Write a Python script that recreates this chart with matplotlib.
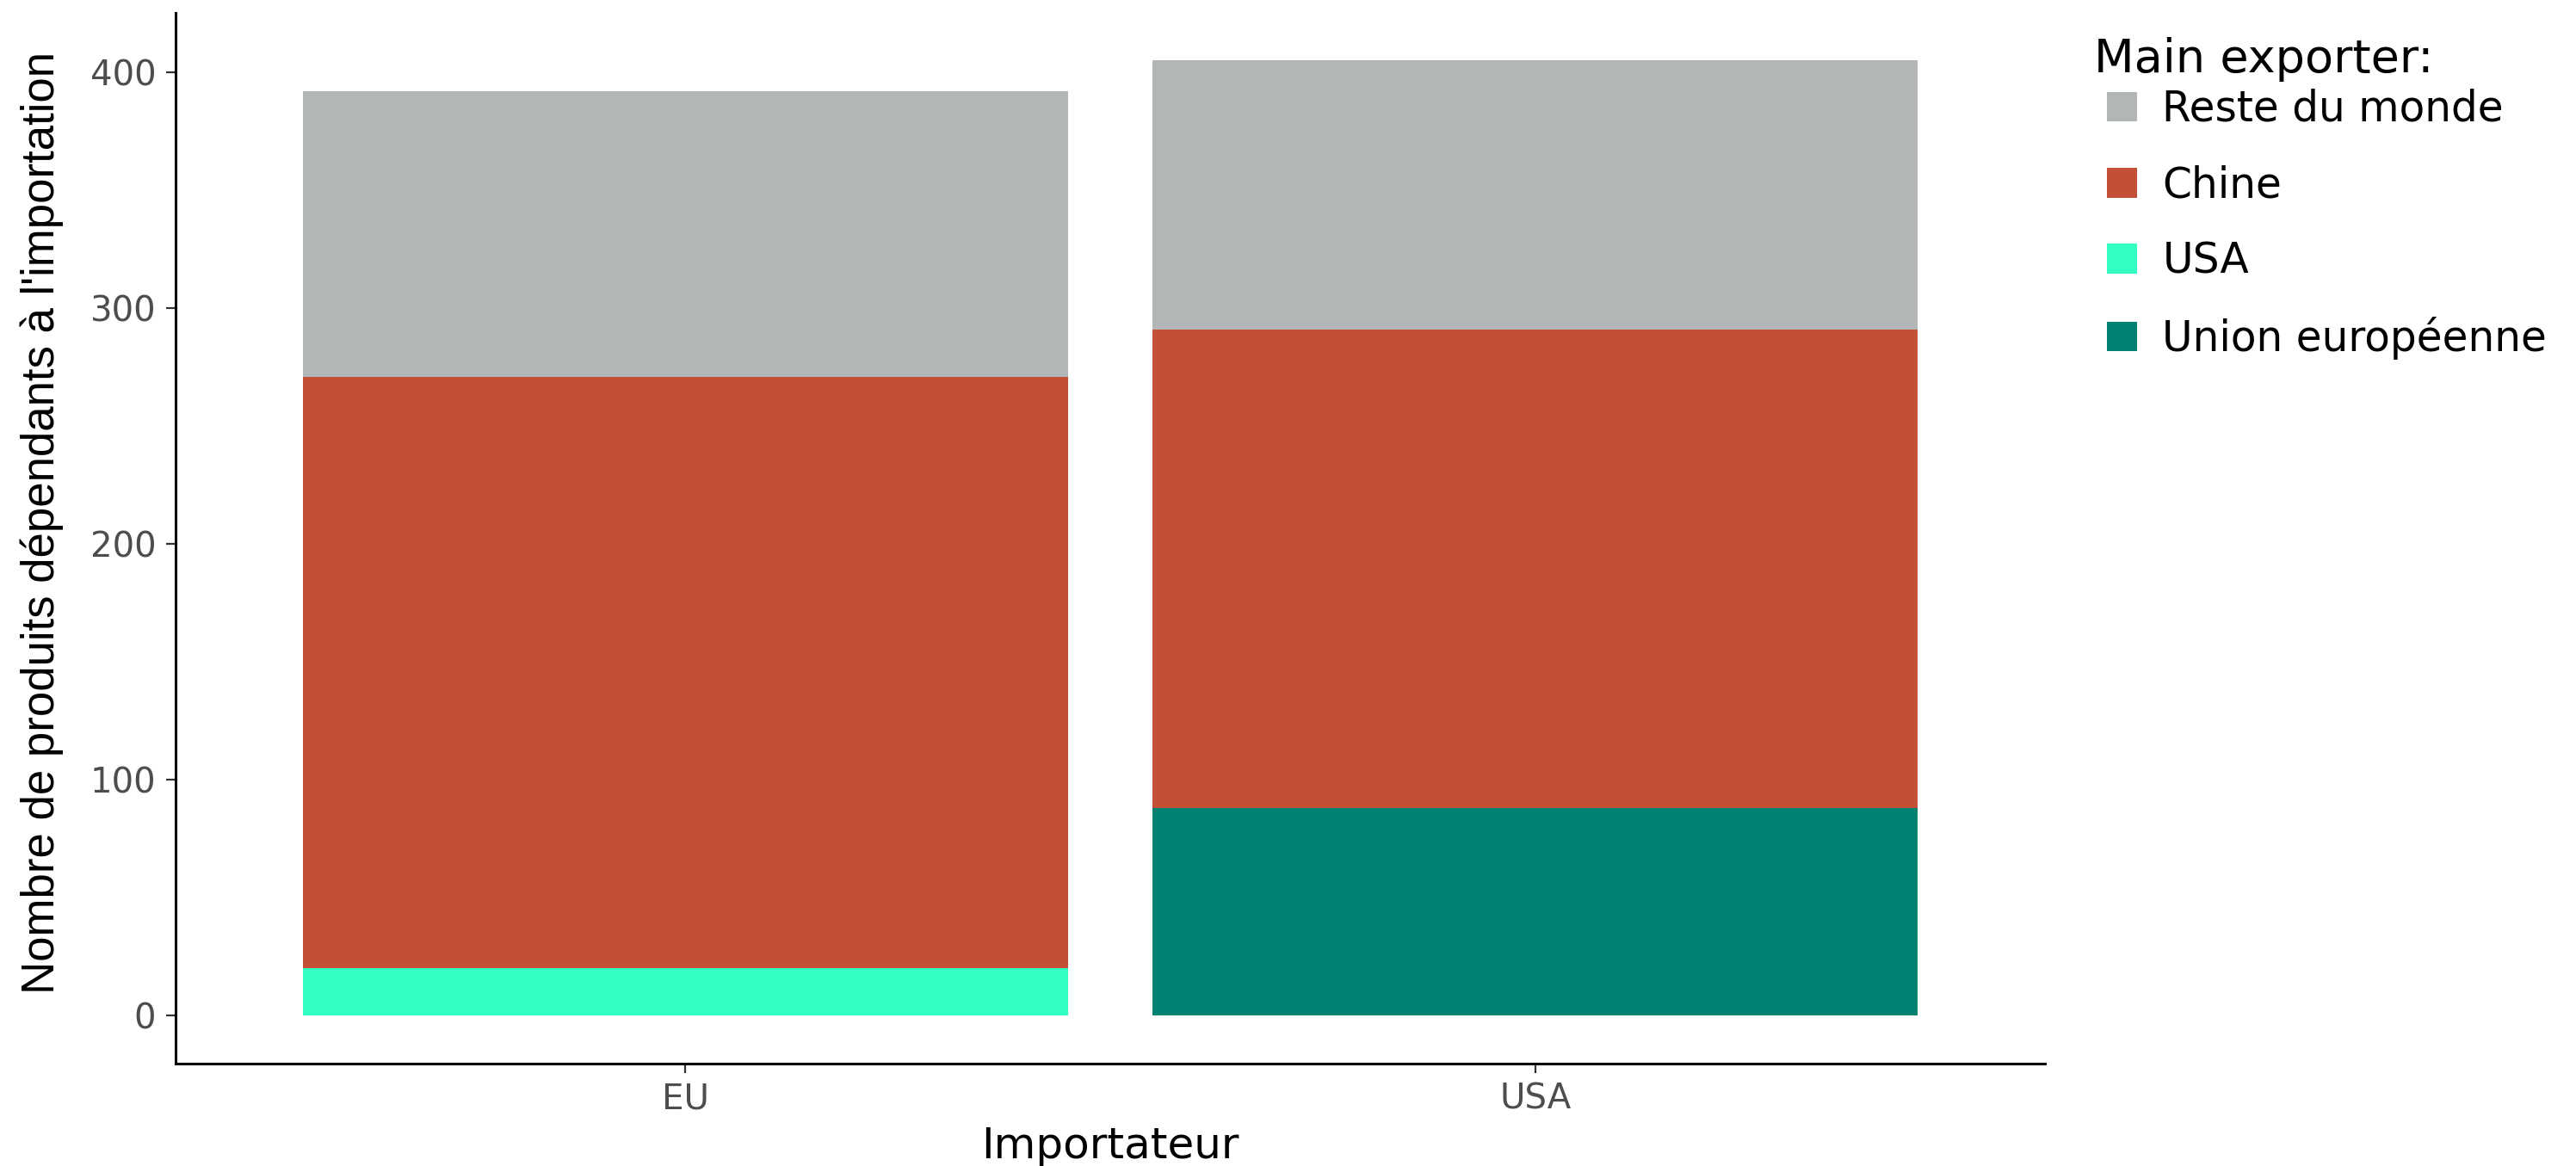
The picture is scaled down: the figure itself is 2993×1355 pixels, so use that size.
import matplotlib
matplotlib.use('Agg')
import matplotlib.pyplot as plt
import numpy as np
from matplotlib.patches import Patch

#Data
#-----------------------------------------------------------
importers = ['EU', 'USA']
exporters = ['Union européenne', 'USA', 'Chine', 'Reste du monde']
union_europeenne = [0, 88]
usa = [20, 0]
chine = [251, 203]
reste_du_monde = [121, 114]
colors = {'Reste du monde': '#B3B6B6', 'Chine': '#C44F37',
          'USA': '#33FFC3', 'Union européenne': '#008272'}
#-----------------------------------------------------------

series = {'Union européenne': union_europeenne, 'USA': usa,
          'Chine': chine, 'Reste du monde': reste_du_monde}

fig = plt.figure(figsize=(14.965, 6.775), dpi=200)
ax = fig.add_axes([0.068, 0.088, 0.726, 0.901])

#Stacked bars
#-----------------------------------------------------------
x = np.arange(1, len(importers) + 1)
bottom = np.zeros(len(importers))
for name in exporters:
    vals = np.array(series[name], dtype=float)
    ax.bar(x, vals, width=0.9, bottom=bottom, color=colors[name], linewidth=0)
    bottom += vals
#-----------------------------------------------------------

#Axes styling
#-----------------------------------------------------------
top = bottom.max()
ax.set_xlim(0.4, 2.6)
ax.set_ylim(-0.05 * top, top * 1.05)
ax.set_xticks(x)
ax.set_xticklabels(importers)
ax.set_yticks([0, 100, 200, 300, 400])
for side in ['top', 'right']:
    ax.spines[side].set_visible(False)
for side in ['left', 'bottom']:
    ax.spines[side].set_linewidth(1.1)
    ax.spines[side].set_color('black')
ax.tick_params(axis='both', colors='#333333', labelcolor='#4D4D4D',
               labelsize=14.5, length=4, width=0.8, pad=4)

ax.set_xlabel('Importateur', fontsize=18, color='black', va='center',
              family='DejaVu Sans')
ax.xaxis.set_label_coords(0.5, -0.079)
ax.set_ylabel("Nombre de produits dépendants à l'importation", fontsize=19,
              family=['Liberation Sans', 'DejaVu Sans'], color='black',
              va='center')
ax.yaxis.set_label_coords(-0.071, 0.515)
#-----------------------------------------------------------

#Legend
#-----------------------------------------------------------
fig.text(0.813, 0.968, 'Main exporter:', fontsize=19.5, color='black',
         ha='left', va='top')
handles = [Patch(facecolor=colors[n], edgecolor='none') for n in reversed(exporters)]
leg = fig.legend(handles, list(reversed(exporters)),
                 loc='upper left', bbox_to_anchor=(0.818, 0.924), frameon=False,
                 fontsize=17.5, handlelength=0.72, handleheight=0.72,
                 handletextpad=0.6, labelspacing=0.83, borderaxespad=0,
                 borderpad=0)
#-----------------------------------------------------------

fig.savefig('out.png', dpi=200)
